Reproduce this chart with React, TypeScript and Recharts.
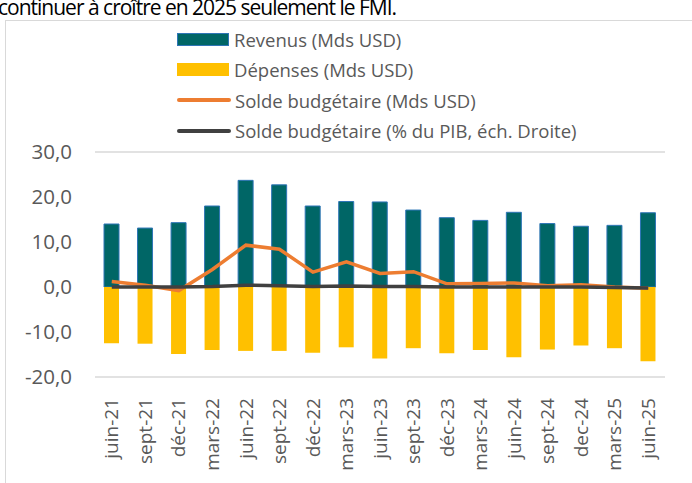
import { ComposedChart, Bar, Line, XAxis, YAxis, CartesianGrid } from 'recharts'

const categories = [
  'juin-21', 'sept-21', 'déc-21', 'mars-22', 'juin-22', 'sept-22', 'déc-22', 'mars-23', 'juin-23',
  'sept-23', 'déc-23', 'mars-24', 'juin-24', 'sept-24', 'dec-24', 'mars-25', 'juin-25',
]
const revenus = [14.0, 13.1, 14.3, 18.0, 23.7, 22.7, 18.0, 19.0, 18.9, 17.1, 15.4, 14.8, 16.6, 14.1, 13.5, 13.7, 16.5]
const depenses = [-12.5, -12.6, -14.9, -14.0, -14.2, -14.2, -14.6, -13.4, -15.9, -13.6, -14.7, -14.0, -15.6, -13.9, -13.0, -13.6, -16.5]
const soldeUsd = [1.2, 0.4, -0.8, 3.9, 9.3, 8.4, 3.3, 5.6, 3.0, 3.4, 0.7, 0.8, 0.9, 0.3, 0.5, 0.0, -0.3]
const soldePib = [0.0, 0.0, 0.0, 0.1, 0.4, 0.3, 0.1, 0.2, 0.1, 0.1, 0.0, 0.0, 0.0, 0.0, 0.0, -0.1, -0.2]
const yTicks = [-20, -10, 0, 10, 20, 30]

const data = categories.map((c, i) => ({
  cat: c,
  revenus: revenus[i],
  depenses: depenses[i],
  soldeUsd: soldeUsd[i],
  soldePib: soldePib[i],
}))

const font = '"Open Sans", sans-serif'
const grey = '#595959'

const legendItems = [
  { label: 'Revenus (Mds USD)', type: 'rect', color: '#006666', stroke: '#2E75B6' },
  { label: 'Dépenses (Mds USD)', type: 'rect', color: '#FFC000', stroke: '#FFC000' },
  { label: 'Solde budgétaire (Mds USD)', type: 'line', color: '#ED7D31' },
  { label: 'Solde budgétaire (% du PIB, éch. Droite)', type: 'line', color: '#404040' },
]

function LegendBox() {
  return (
    <div style={{ position: 'absolute', left: 177, top: 24, fontFamily: font, fontSize: 18.5, color: grey }}>
      {legendItems.map((it) => (
        <div key={it.label} style={{ display: 'flex', alignItems: 'center', height: 30.5, whiteSpace: 'nowrap' }}>
          {it.type === 'rect' ? (
            <div style={{ width: 50, height: 11, background: it.color, border: `1px solid ${it.stroke}`, marginRight: 5 }} />
          ) : (
            <div style={{ width: 54, height: 4, borderRadius: 2, background: it.color, marginRight: 4 }} />
          )}
          <span>{it.label}</span>
        </div>
      ))}
    </div>
  )
}

function XTick(props: any) {
  const { x, y, payload } = props
  return (
    <text
      x={x}
      y={y + 13}
      transform={`rotate(-90, ${x}, ${y + 13})`}
      textAnchor="end"
      dy="0.35em"
      fill={grey}
      fontSize={19}
      fontFamily={font}
    >
      {payload.value}
    </text>
  )
}

export default function App() {
  return (
    <div style={{ position: 'fixed', left: 0, top: 0, width: 692, height: 483, overflow: 'hidden', background: '#fff' }}>
      <div style={{ position: 'absolute', left: -2, top: -3, fontFamily: font, fontSize: 21, letterSpacing: -1, lineHeight: '20px', color: '#000', whiteSpace: 'nowrap' }}>
        continuer à croître en 2025 seulement le FMI.
      </div>
      <div style={{ position: 'absolute', left: 5, top: 20, width: 700, height: 490, border: '1px solid #d9d9d9' }} />
      <div style={{ position: 'absolute', left: 0, top: 0 }}>
        <ComposedChart
          width={692}
          height={483}
          data={data}
          stackOffset="sign"
          barSize={15}
          margin={{ top: 152, right: 27, left: 0, bottom: 0 }}
        >
          <CartesianGrid vertical={false} stroke="#d9d9d9" strokeWidth={1.5} />
          <XAxis dataKey="cat" axisLine={false} tickLine={false} height={106} interval={0} tick={<XTick />} />
          <YAxis
            yAxisId="left"
            width={95}
            domain={[-20, 30]}
            ticks={yTicks}
            axisLine={false}
            tickLine={false}
            tickSize={0}
            tickMargin={23}
            tickFormatter={(v: number) => v.toFixed(1).replace('.', ',')}
            tick={{ fill: grey, fontSize: 20.5, fontFamily: font }}
          />
          <YAxis yAxisId="right" orientation="right" hide domain={[-20, 30]} />
          <Bar yAxisId="left" dataKey="revenus" stackId="a" fill="#006666" stroke="#2E75B6" strokeWidth={1} isAnimationActive={false} />
          <Bar yAxisId="left" dataKey="depenses" stackId="a" fill="#FFC000" isAnimationActive={false} />
          <Line yAxisId="left" dataKey="soldeUsd" stroke="#ED7D31" strokeWidth={3.5} dot={false} type="linear" isAnimationActive={false} />
          <Line yAxisId="right" dataKey="soldePib" stroke="#404040" strokeWidth={3.5} dot={false} type="linear" isAnimationActive={false} />
        </ComposedChart>
      </div>
      <LegendBox />
    </div>
  )
}
